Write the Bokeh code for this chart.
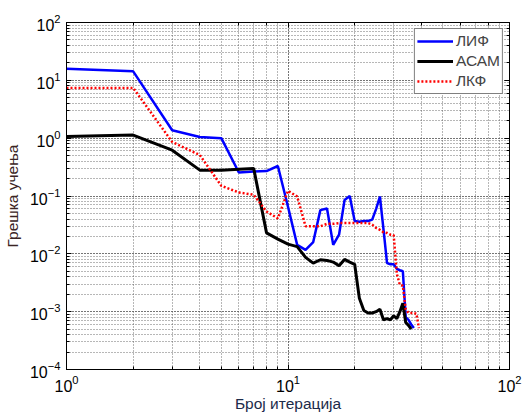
from bokeh.plotting import figure
from bokeh.models import Range1d, LogAxis, CustomJSTickFormatter, Legend, LegendItem
from bokeh.embed import file_html
from bokeh.resources import INLINE

# Data (iteration index -> training error)
iter_lif = list(range(1, 38))
err_lif = [15.9, 14.3, 1.37, 1.05, 1.0, 0.255, 0.265, 0.27, 0.33, 0.065,
           0.0143, 0.0117, 0.016, 0.057, 0.061, 0.0143, 0.0214, 0.085, 0.10, 0.037,
           0.036, 0.037, 0.037, 0.039, 0.06, 0.098, 0.026, 0.0069, 0.0066, 0.0066,
           0.0055, 0.0052, 0.005, 0.0008, 0.00072, 0.0006, 0.00052]

iter_asam = list(range(1, 37))
err_asam = [1.07, 1.13, 0.62, 0.28, 0.28, 0.29, 0.30, 0.023, 0.018, 0.0147,
            0.0133, 0.0087, 0.0069, 0.0079, 0.0077, 0.0072, 0.0062, 0.008, 0.0072, 0.0066,
            0.0017, 0.00105, 0.00095, 0.00095, 0.001, 0.0011, 0.00072, 0.00076, 0.00072, 0.00085,
            0.00076, 0.001, 0.0014, 0.00065, 0.00058, 0.0005]

iter_lkf = list(range(1, 40))
err_lkf = [7.4, 7.4, 0.86, 0.51, 0.15, 0.115, 0.105, 0.054, 0.041, 0.123,
           0.098, 0.030, 0.030, 0.030, 0.033, 0.033, 0.034, 0.034, 0.034, 0.034,
           0.034, 0.034, 0.034, 0.032, 0.028, 0.026, 0.0235, 0.023, 0.0214, 0.021,
           0.0045, 0.0029, 0.0028, 0.0011, 0.00095, 0.00095, 0.00095, 0.00092, 0.00052]

series_names = ["ЛИФ", "АСАМ", "ЛКФ"]
x_label = "Број итерација"
y_label = "Грешка учења"

FONT = "Liberation Sans"

p = figure(width=524, height=414, x_axis_type="log", y_axis_type="log",
           x_range=Range1d(1, 100), y_range=Range1d(1e-4, 1e2),
           output_backend="svg", toolbar_location=None,
           min_border_left=66, min_border_right=15, min_border_top=22, min_border_bottom=44)

p.outline_line_color = "black"
p.outline_line_width = 1
p.background_fill_color = "white"
p.border_fill_color = "white"

for ax in (p.xaxis[0], p.yaxis[0]):
    ax.major_tick_in = 5
    ax.major_tick_out = 0
    ax.minor_tick_in = 3
    ax.minor_tick_out = 0
    ax.axis_line_color = "black"
    ax.major_tick_line_color = "black"
    ax.minor_tick_line_color = "black"
    ax.major_label_text_font = FONT
    ax.major_label_text_font_size = "16px"
    ax.major_label_text_color = "black"
    ax.axis_label_text_font = FONT
    ax.axis_label_text_font_size = "15.5px"
    ax.axis_label_text_font_style = "normal"

p.xaxis.axis_label = x_label
p.xaxis.axis_label_text_color = "#1c2b4a"
p.xaxis.major_label_standoff = 5
p.xaxis.axis_label_standoff = 0
p.yaxis.axis_label = y_label
p.yaxis.axis_label_text_color = "#3a2424"
p.yaxis.major_label_standoff = 6
p.yaxis.axis_label_standoff = 6

blank = CustomJSTickFormatter(code="return ''")
for loc in ("right", "above"):
    ax = LogAxis(formatter=blank, major_tick_in=5, major_tick_out=0,
                 minor_tick_in=3, minor_tick_out=0, major_label_text_font_size="1px",
                 major_label_standoff=0)
    p.add_layout(ax, loc)

for g in (p.xgrid[0], p.ygrid[0]):
    g.grid_line_color = "#555555"
    g.grid_line_alpha = 0.85
    g.grid_line_dash = "1 2"
    g.minor_grid_line_color = "#555555"
    g.minor_grid_line_alpha = 0.85
    g.minor_grid_line_dash = "1 2"

r1 = p.line(iter_lif, err_lif, line_color="#0000ff", line_width=2.5)
r2 = p.line(iter_asam, err_asam, line_color="black", line_width=3)
r3 = p.line(iter_lkf, err_lkf, line_color="#ff0000", line_width=2.5, line_dash="2 2")

legend = Legend(items=[LegendItem(label=series_names[0], renderers=[r1]),
                       LegendItem(label=series_names[1], renderers=[r2]),
                       LegendItem(label=series_names[2], renderers=[r3])],
                location="top_right", margin=6, padding=2, spacing=0,
                glyph_width=36, glyph_height=20, label_height=20, label_standoff=3,
                label_text_font=FONT, label_text_font_size="15.5px",
                border_line_color="black", border_line_width=1,
                background_fill_color="white", background_fill_alpha=1)
p.add_layout(legend)

open("out.html", "w").write(file_html(p, INLINE))
